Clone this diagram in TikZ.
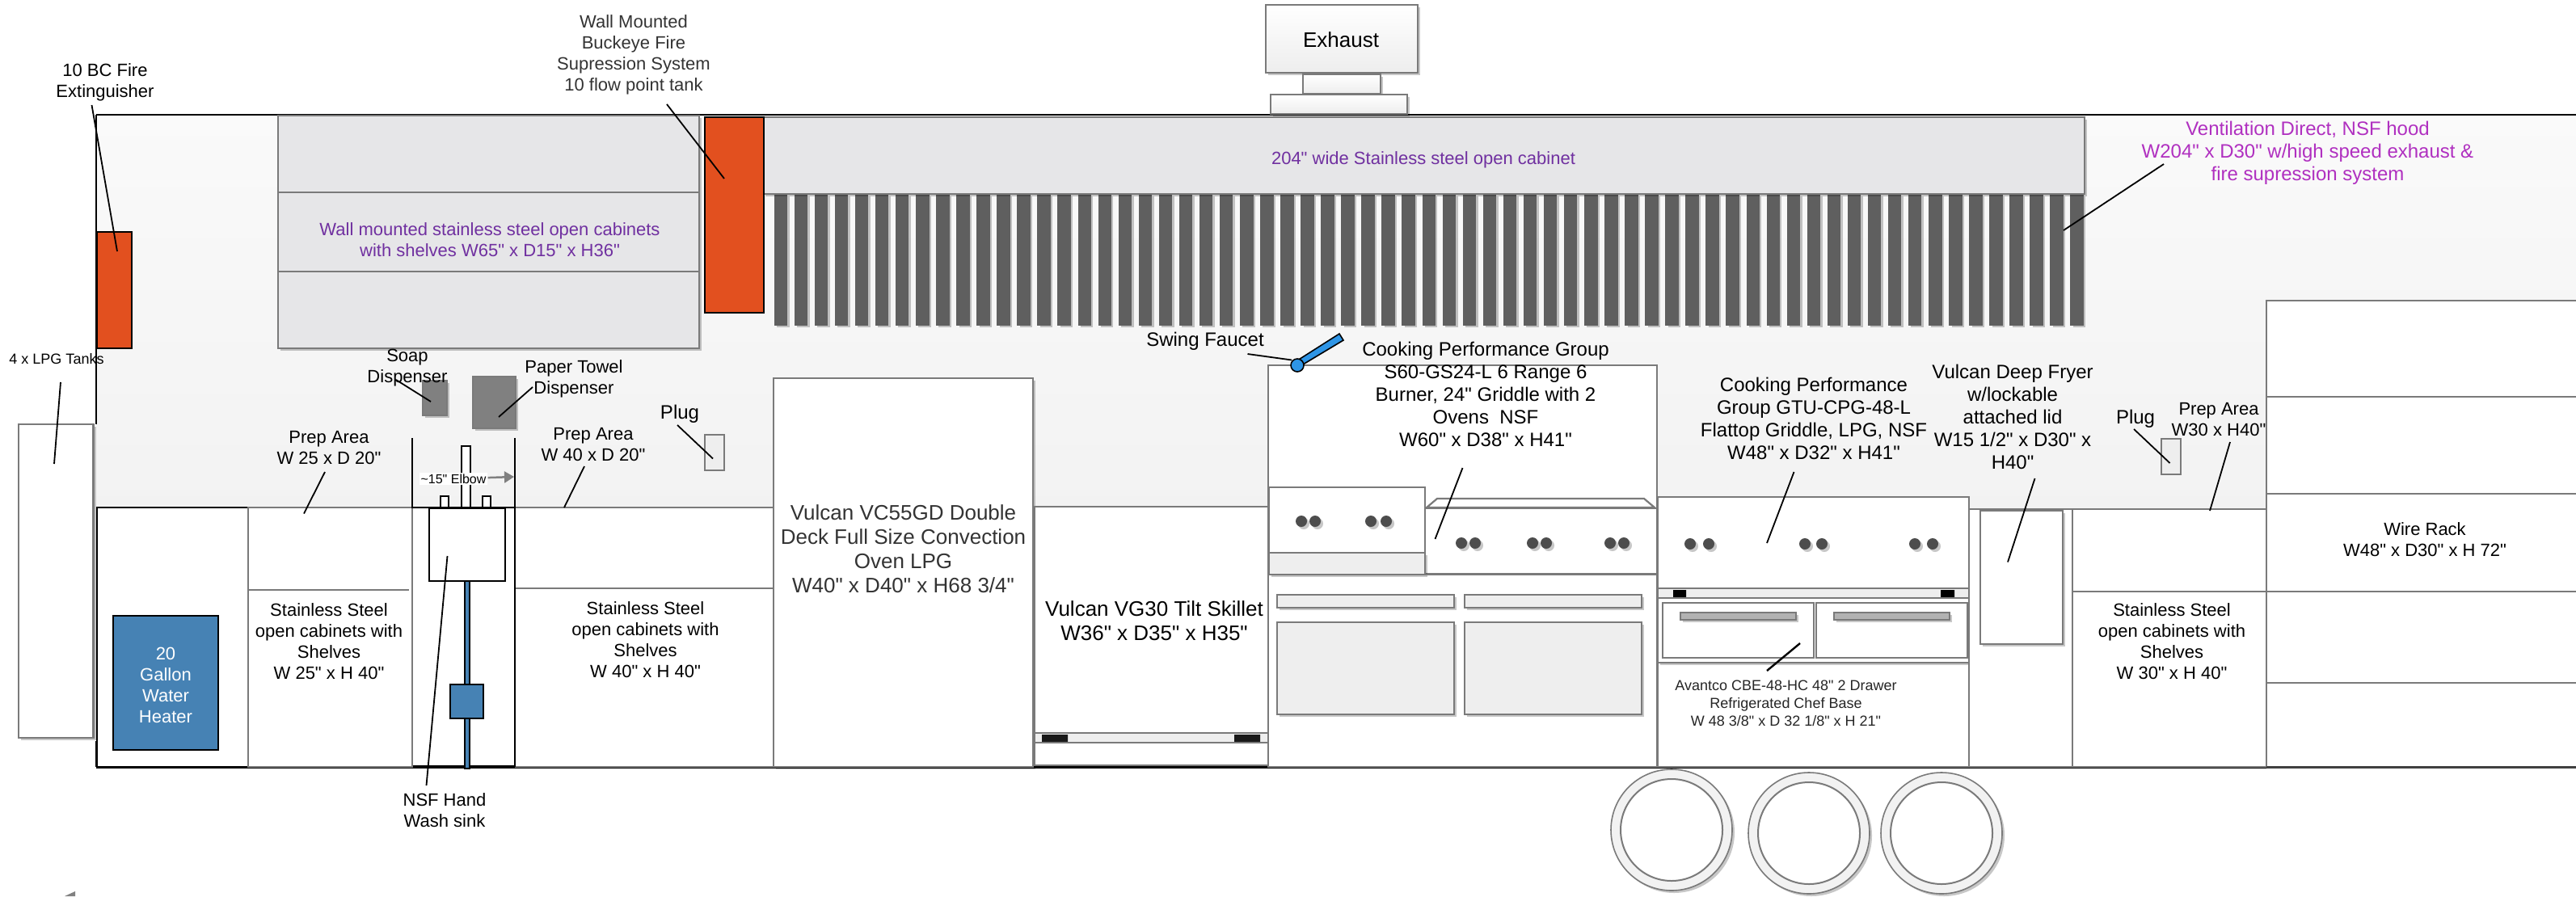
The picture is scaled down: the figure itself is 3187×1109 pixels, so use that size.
\documentclass[tikz,border=0pt]{standalone}
\usepackage{fontspec}
\setmainfont{Liberation Sans}[Ligatures=TeXOff]
\usetikzlibrary{arrows.meta,shadows}
\definecolor{wallgray}{HTML}{7A7A7A}
\definecolor{cabinet}{HTML}{E6E6E8}
\definecolor{panel}{HTML}{EEEEEE}
\definecolor{fin}{HTML}{5F5F5F}
\definecolor{dispenser}{HTML}{808080}
\definecolor{tank}{HTML}{E2501F}
\definecolor{pipe}{HTML}{4682B4}
\definecolor{faucet}{HTML}{2E95E6}
\definecolor{hoodtext}{HTML}{7030A0}
\definecolor{venttext}{HTML}{B030C0}
\definecolor{knob}{HTML}{4D4D4D}
\tikzset{
	cast/.style={drop shadow={shadow xshift=3pt, shadow yshift=-3pt, opacity=.22, fill=black}},
	part/.style={draw=wallgray, line width=2.2pt, fill=white},
	cab/.style={part, fill=cabinet, cast},
	plate/.style={part, fill=panel, cast},
	blk/.style={draw=black, line width=2.2pt},
	leader/.style={draw=black, line width=1.8pt},
	knobdot/.style={fill=knob, cast},
	lbl/.style={align=center, inner sep=0pt, yshift=-1.5pt, font=\fontsize{22}{26}\selectfont},
	lblsmall/.style={lbl, text=black!85, font=\fontsize{18}{22}\selectfont},
	lblbig/.style={lbl, font=\fontsize{24}{28}\selectfont},
	lblhuge/.style={lbl, text=black!80, font=\fontsize{26}{30}\selectfont}
}
\begin{document}
\begin{tikzpicture}[x=1pt, y=-1pt]
	\useasboundingbox (0,0) rectangle (3187,1109);

	% trailer body
	\shade[top color=white!98!black, bottom color=black!5] (119,142) rectangle (3187,630);
	\draw[black, line width=2.5pt] (119,142) -- (3187,142);
	\draw[black, line width=2pt] (119,142) -- (119,525);
	\draw[black, line width=2pt] (119,917) -- (119,949);
	\draw[black, line width=3.5pt] (119,949) -- (3187,949);

	% lpg tanks and water heater
	\draw[part, cast] (23,525) rectangle (115.5,913);
	\draw[blk, fill=white] (120,628) rectangle (307,949);
	\draw[blk, fill=pipe] (140,762) rectangle (270,928);

	% wall cabinets and hood
	\draw[cab] (344,143) rectangle (865,431);
	\draw[part, fill=none] (344,238) -- (865,238) (344,336) -- (865,336);
	\foreach \i in {0,...,64}
		\draw[draw=fin, line width=.8pt, fill=fin, cast] ({958+\i*25.06},240) rectangle ++(15.5,162);
	\draw[cab] (944,145) rectangle (2579,240);
	\draw[blk, fill=tank] (872,145) rectangle (945,387);
	\draw[blk, fill=tank] (120,287) rectangle (163,431);

	% exhaust
	\draw[part, top color=white, bottom color=black!7, cast] (1566,6) rectangle (1754,90);
	\draw[part, top color=white, bottom color=black!7, cast] (1612,92) rectangle (1708,116);
	\draw[part, top color=white, bottom color=black!7, cast] (1572,117) rectangle (1741,141);

	% dispensers and plugs
	\draw[part, fill=dispenser, cast] (523,471) rectangle (553,514);
	\draw[part, fill=dispenser, cast] (585,466) rectangle (638,530);
	\draw[part, fill=panel] (872,538) rectangle (896,582);
	\draw[part, fill=panel] (2674,543) rectangle (2698,587);

	% base cabinets
	\draw[part] (307,628) rectangle (510,949);
	\draw[part] (307,730) -- (506,730);
	\draw[part] (637,628) rectangle (957,949);
	\draw[part] (637,728) -- (957,728);

	% hand wash sink
	\draw[black, line width=1.6pt] (510,542) -- (510,628) -- (637,628) (637,542) -- (637,949) (512,949) -- (637,949);
	\draw[black, line width=1.6pt, fill=white] (571,552) rectangle (582,628);
	\draw[black, line width=1.6pt, fill=white] (545,614) rectangle (555,628);
	\draw[black, line width=1.6pt, fill=white] (597,614) rectangle (607,628);
	\draw[blk, fill=white] (531,629) rectangle (625,719);
	\draw[black, line width=1.4pt, fill=pipe] (575,719) rectangle (581,951);
	\draw[blk, fill=pipe] (557,847) rectangle (598,889);

	% convection oven and tilt skillet
	\draw[part, cast] (957,468) rectangle (1278,949);
	\draw[part] (1280,627) rectangle (1569,907);
	\draw[part, fill=panel] (1280,907) rectangle (1569,919);
	\fill[black!90] (1289,909) rectangle (1321,919) (1527,909) rectangle (1559,919);
	\draw[part] (1280,919) rectangle (1569,947);

	% range
	\draw[part] (1569,452) rectangle (2050,949);
	\draw[part, fill=white] (1765,628) -- (1778,617) -- (2034,617) -- (2047,628) -- cycle;
	\draw[part] (1763,629) rectangle (2050,710);
	\draw[plate] (1570,684) rectangle (1763,711);
	\draw[part, fill=white] (1570,603) rectangle (1763,684);
	\draw[part] (1570,711) -- (2050,711);
	\foreach \x in {1610,1627,1696,1715,1808,1825,1896,1913,1992,2009}
		\path[knobdot] (\x,{\x<1760 ? 645 : 672}) circle (7);
	\draw[plate] (1580,736) rectangle (1799,752);
	\draw[plate] (1812,736) rectangle (2031,752);
	\draw[plate] (1580,770) rectangle (1799,884);
	\draw[plate] (1812,770) rectangle (2031,884);

	% griddle and chef base
	\draw[part] (2051,740) rectangle (2436,949);
	\draw[part] (2051,615) rectangle (2436,728);
	\draw[part, fill=panel] (2051,728) rectangle (2436,740);
	\fill[black] (2070,730) rectangle (2086,739) (2401,730) rectangle (2418,739);
	\draw[part, cast] (2051,740) rectangle (2436,820);
	\draw[part] (2057,746) rectangle (2244,814);
	\draw[part] (2247,746) rectangle (2434,814);
	\draw[part, fill=black!30, cast] (2079,758) rectangle (2222,767);
	\draw[part, fill=black!30, cast] (2269,758) rectangle (2412,767);
	\foreach \x in {2091,2114,2233,2254,2369,2391}
		\path[knobdot] (\x,673) circle (7);

	% fryer and shelving
	\draw[part] (2436,630) rectangle (2564,949);
	\draw[part, cast] (2450,632) rectangle (2552,797);
	\draw[part] (2564,630) rectangle (2804,949);
	\draw[part] (2564,732) -- (2804,732);
	\draw[part] (2804,372) rectangle (3190,949);
	\draw[part] (2804,491) -- (3187,491) (2804,611) -- (3187,611) (2804,732) -- (3187,732) (2804,845) -- (3187,845);
	\draw[black!75, line width=3pt] (2804,949) -- (3187,949);

	% faucet
	\draw[black, line width=1.6pt, fill=faucet] (1602,448) -- (1657,413) -- (1662,421) -- (1612,451) -- cycle;
	\draw[black, line width=1.6pt, fill=faucet] (1605,452) circle (8);

	% wheels
	\foreach \x/\y in {2068/1027,2238/1031,2402/1031} {
		\draw[draw=wallgray, line width=1.6pt, fill=black!5, cast] (\x,\y) circle (75);
		\draw[draw=wallgray, line width=2pt, fill=white] (\x,\y) circle (63);
	}
	\fill[black!50] (93,1103) -- (80,1109) -- (93,1109) -- cycle;

	% labels
	\node[lbl] (ext) at (130,100) {10 BC Fire\\Extinguisher};
	\node[lbl, text=black!80] (buckeye) at (784,66.5) {Wall Mounted\\Buckeye Fire\\Supression System\\10 flow point tank};
	\node[lbl, font=\fontsize{18}{22}\selectfont] (lpg) at (70,443) {4 x LPG Tanks};
	\node[lbl] (soap) at (504,454) {Soap\\Dispenser};
	\node[lbl] (towel) at (710,467.5) {Paper Towel\\Dispenser};
	\node[lblbig] (plugA) at (841,511) {Plug};
	\node[lblbig] (plugB) at (2642,516.5) {Plug};
	\node[lbl] (prepA) at (407,553) {Prep Area\\W 25 x D 20"};
	\node[lbl] (prepB) at (734,548.5) {Prep Area\\W 40 x D 20"};
	\node[lbl] (prepC) at (2745,518) {Prep Area\\W30 x H40"};
	\node[lbl, fill=white, inner sep=2pt, font=\fontsize{16}{19}\selectfont] (elbow) at (561,591) {\textasciitilde 15" Elbow};
	\node[lbl] (sink) at (550,1001) {NSF Hand\\Wash sink};
	\node[lbl, text=white] (heater) at (205,846) {20\\Gallon\\Water\\Heater};
	\node[lbl] (shelfA) at (407,792) {Stainless Steel\\open cabinets with\\Shelves\\W 25" x H 40"};
	\node[lbl] (shelfB) at (798.5,790) {Stainless Steel\\open cabinets with\\Shelves\\W 40" x H 40"};
	\node[lbl] (shelfC) at (2687,792) {Stainless Steel\\open cabinets with\\Shelves\\W 30" x H 40"};
	\node[lbl] (rack) at (3000,666) {Wire Rack\\W48" x D30" x H 72"};
	\node[lbl, text=hoodtext] (wallcab) at (606,295) {Wall mounted stainless steel open cabinets\\with shelves W65" x D15" x H36"};
	\node[lbl, text=hoodtext] (hoodcab) at (1761,196) {204" wide Stainless steel open cabinet};
	\node[lblbig, text=venttext] (vent) at (2855,188) {Ventilation Direct, NSF hood\\W204" x D30" w/high speed exhaust \&\\fire supression system};
	\node[lbl, font=\fontsize{26}{30}\selectfont] (exhaust) at (1659,48) {Exhaust};
	\node[lblhuge] (oven) at (1117.5,678) {Vulcan VC55GD Double\\Deck Full Size Convection\\Oven LPG\\W40" x D40" x H68 3/4"};
	\node[lbl, font=\fontsize{26}{30}\selectfont] (skillet) at (1428,767) {Vulcan VG30 Tilt Skillet\\W36" x D35" x H35"};
	\node[lblbig] (swing) at (1491,421) {Swing Faucet};
	\node[lblbig] (rangetxt) at (1838,486) {Cooking Performance Group\\S60-GS24-L 6 Range 6\\Burner, 24" Griddle with 2\\Ovens\ \ NSF\\W60" x D38" x H41"};
	\node[lblbig] (griddle) at (2244,516) {Cooking Performance\\Group GTU-CPG-48-L\\Flattop Griddle, LPG, NSF\\W48" x D32" x H41"};
	\node[lblbig] (fryer) at (2490,514) {Vulcan Deep Fryer\\w/lockable\\attached lid\\W15 1/2" x D30" x\\H40"};
	\node[lblsmall] (chef) at (2209.5,869) {Avantco CBE-48-HC 48" 2 Drawer\\Refrigerated Chef Base\\W 48 3/8" x D 32 1/8" x H 21"};

	% leader ends
	\coordinate (extA) at (113.5,130); \coordinate (extB) at (145,311);
	\coordinate (buckeyeA) at (825,129); \coordinate (buckeyeB) at (896,221);
	\coordinate (lpgA) at (75,473); \coordinate (lpgB) at (67,574);
	\coordinate (soapA) at (490,470); \coordinate (soapB) at (533,497);
	\coordinate (towelA) at (659,479); \coordinate (towelB) at (617,516);
	\coordinate (plugAa) at (838,526); \coordinate (plugAb) at (882,567.5);
	\coordinate (plugBa) at (2640,531); \coordinate (plugBb) at (2684.5,573);
	\coordinate (prepAa) at (402,584); \coordinate (prepAb) at (376,635.5);
	\coordinate (prepBa) at (723,577); \coordinate (prepBb) at (698,628);
	\coordinate (prepCa) at (2759,547); \coordinate (prepCb) at (2734,632);
	\coordinate (sinkA) at (527.5,972); \coordinate (sinkB) at (553.5,688);
	\coordinate (ventA) at (2677,203); \coordinate (ventB) at (2553,285);
	\coordinate (swingA) at (1543.5,438); \coordinate (swingB) at (1598,445.5);
	\coordinate (rangeA) at (1809.5,579); \coordinate (rangeB) at (1775.5,667);
	\coordinate (griddleA) at (2219.5,584); \coordinate (griddleB) at (2186,672);
	\coordinate (fryerA) at (2517.5,592); \coordinate (fryerB) at (2484,695.5);
	\coordinate (chefA) at (2186,830); \coordinate (chefB) at (2227,796);
	\coordinate (elbowEnd) at (636,590);

	\path (extA) edge[leader] (extB)
	(buckeyeA) edge[leader] (buckeyeB)
	(lpgA) edge[leader] (lpgB)
	(soapA) edge[leader] (soapB)
	(towelA) edge[leader] (towelB)
	(plugAa) edge[leader] (plugAb)
	(plugBa) edge[leader] (plugBb)
	(prepAa) edge[leader] (prepAb)
	(prepBa) edge[leader] (prepBb)
	(prepCa) edge[leader] (prepCb)
	(sinkA) edge[leader] (sinkB)
	(ventA) edge[leader] (ventB)
	(swingA) edge[leader] (swingB)
	(rangeA) edge[leader] (rangeB)
	(griddleA) edge[leader] (griddleB)
	(fryerA) edge[leader] (fryerB)
	(chefA) edge[leader, line width=2.4pt] (chefB);
	\draw[-{Triangle[length=12pt, width=14pt]}, draw=dispenser, line width=2.5pt] (elbow) -- (elbowEnd);
\end{tikzpicture}
\end{document}
